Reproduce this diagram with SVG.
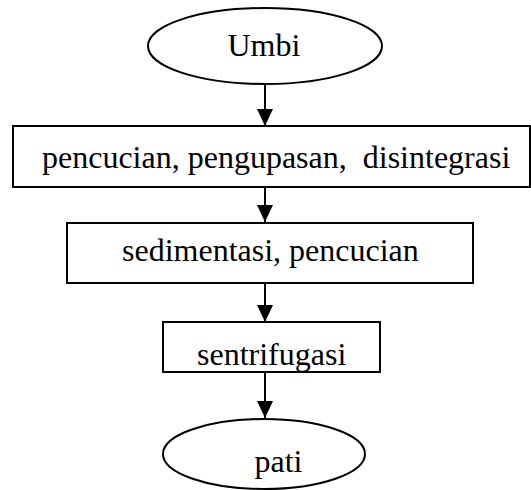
<svg xmlns="http://www.w3.org/2000/svg" width="531" height="490" viewBox="0 0 531 490">
<style>
  .shape { fill: #ffffff; stroke: #000000; stroke-width: 2; }
  .label { font-family: "Liberation Serif", "Times New Roman", serif; font-size: 32px; fill: #000000; }
  .conn { stroke: #000000; stroke-width: 2; fill: none; }
</style>
<defs>
  <marker id="arrow" markerWidth="17" markerHeight="16" refX="17" refY="8" orient="auto" markerUnits="userSpaceOnUse" viewBox="0 0 17 16">
    <path d="M0,0 L17,8 L0,16 Z" fill="#000000"/>
  </marker>
  <clipPath id="clip3"><rect x="163" y="322" width="217" height="50"/></clipPath>
</defs>
<rect width="531" height="490" fill="#ffffff"/>
<g id="connectors">
  <line class="conn" x1="265" y1="85" x2="265" y2="126" marker-end="url(#arrow)"/>
  <line class="conn" x1="265" y1="187" x2="265" y2="222" marker-end="url(#arrow)"/>
  <line class="conn" x1="265" y1="283" x2="265" y2="322" marker-end="url(#arrow)"/>
  <line class="conn" x1="265" y1="372" x2="265" y2="418" marker-end="url(#arrow)"/>
</g>
<g id="node-umbi">
  <ellipse class="shape" cx="265" cy="46" rx="117" ry="38"/>
  <text class="label" x="227.5" y="56">Umbi</text>
</g>
<g id="node-pencucian">
  <rect class="shape" x="13" y="126" width="517" height="61"/>
  <text class="label" x="42" y="168" xml:space="preserve">pencucian, pengupasan,  disintegrasi</text>
</g>
<g id="node-sedimentasi">
  <rect class="shape" x="67" y="223" width="406" height="60"/>
  <text class="label" x="122" y="261">sedimentasi, pencucian</text>
</g>
<g id="node-sentrifugasi">
  <rect class="shape" x="163" y="322" width="217" height="50"/>
  <text class="label" x="197" y="365" clip-path="url(#clip3)">sentrifugasi</text>
  <rect x="163" y="322" width="217" height="50" fill="none" stroke="#000000" stroke-width="2"/>
</g>
<g id="node-pati">
  <ellipse class="shape" cx="264" cy="454" rx="101" ry="35"/>
  <text class="label" x="254.5" y="472">pati</text>
</g>
</svg>
